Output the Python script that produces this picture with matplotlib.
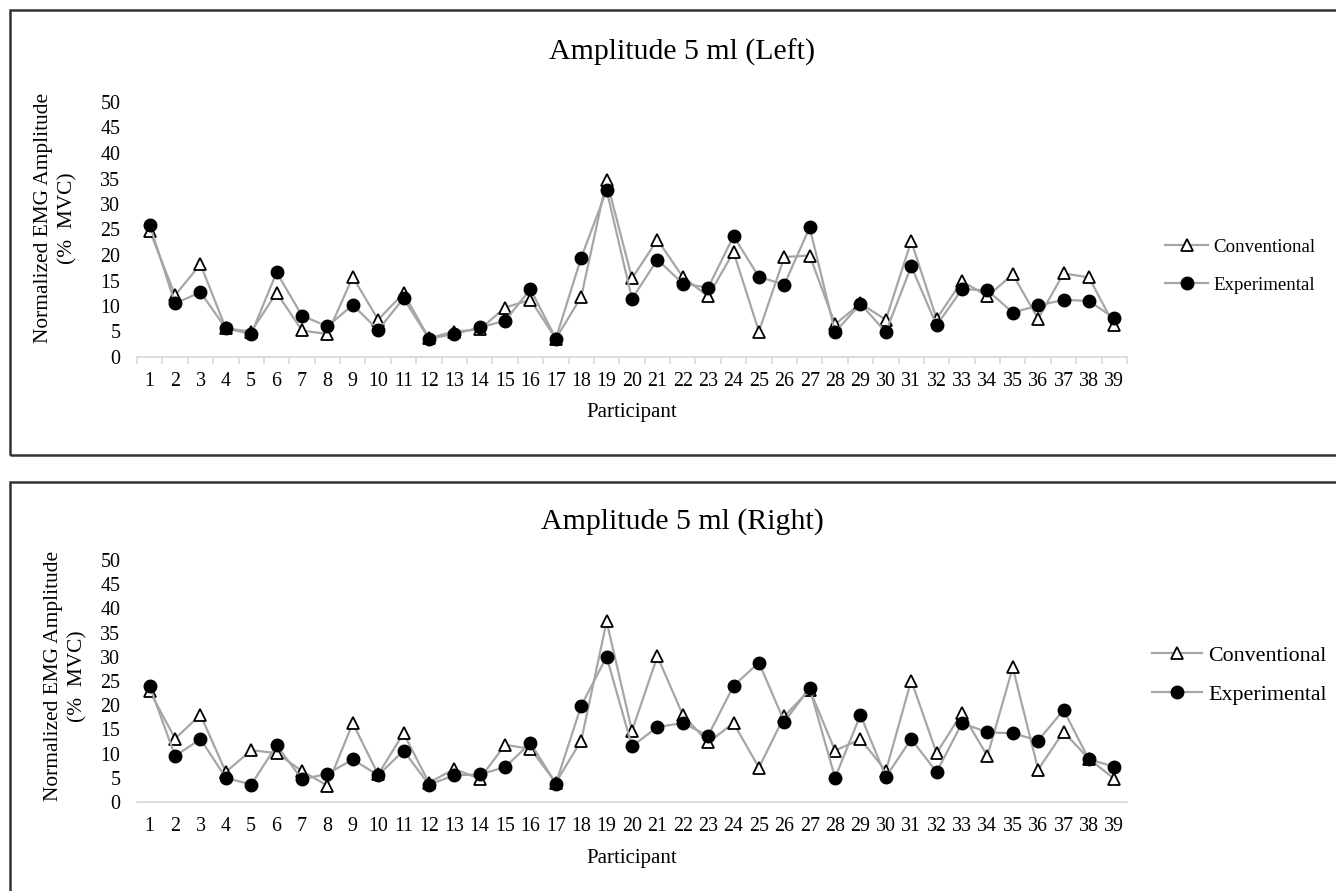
import numpy as np
import matplotlib
matplotlib.use('Agg')
import matplotlib.pyplot as plt
from matplotlib.patches import Rectangle

plt.rcParams['font.family'] = ['Liberation Serif', 'DejaVu Serif']

participants = list(range(1, 40))

# Amplitude 5 ml (Left)
left_conventional = [24.8, 12.1, 18.2, 5.6, 5.0, 12.6, 5.2, 4.5, 15.7, 7.3,
                     12.5, 3.7, 5.0, 5.4, 9.7, 11.2, 3.6, 11.8, 34.7, 15.4,
                     23.0, 15.7, 11.9, 20.6, 5.0, 19.6, 19.9, 6.4, 10.5, 7.3,
                     22.7, 7.5, 14.9, 11.9, 16.2, 7.5, 16.4, 15.6, 6.2]
left_experimental = [25.9, 10.5, 12.7, 5.6, 4.5, 16.6, 8.1, 6.0, 10.2, 5.3,
                     11.5, 3.6, 4.5, 5.8, 7.1, 13.3, 3.6, 19.5, 32.7, 11.4,
                     19.1, 14.4, 13.6, 23.7, 15.7, 14.2, 25.4, 4.9, 10.4, 4.9,
                     17.8, 6.2, 13.3, 13.1, 8.7, 10.1, 11.2, 11.0, 7.6]

# Amplitude 5 ml (Right)
right_conventional = [22.9, 13.1, 18.0, 6.2, 10.7, 10.1, 6.4, 3.4, 16.3, 5.7,
                      14.2, 4.0, 6.8, 4.8, 11.8, 11.0, 4.0, 12.7, 37.3, 14.7,
                      30.1, 18.0, 12.3, 16.3, 7.1, 17.7, 23.2, 10.6, 13.0, 6.4,
                      25.1, 10.1, 18.4, 9.5, 27.8, 6.7, 14.5, 8.9, 4.8]
right_experimental = [24.0, 9.5, 13.0, 5.0, 3.6, 11.7, 4.7, 5.8, 8.8, 5.5,
                      10.6, 3.6, 5.5, 5.7, 7.2, 12.2, 3.8, 19.9, 30.0, 11.5,
                      15.5, 16.3, 13.7, 24.0, 28.8, 16.6, 23.5, 5.0, 18.0, 5.2,
                      13.0, 6.2, 16.3, 14.4, 14.2, 12.7, 19.0, 8.8, 7.3]

yticks = list(range(0, 55, 5))

W, H = 1336, 891
fig = plt.figure(figsize=(W / 100, H / 100), dpi=100)


def fx(px):
    return px / W


def fy(py):
    return 1 - py / H


def panel(top, bottom, conv, exp, title, title_y, ylab_x, ylab_y, xlab_y,
          leg_x, leg_y, leg_fs, leg_sp, minor_ticks):
    ax = fig.add_axes([fx(137), fy(bottom), fx(1127) - fx(137), fy(top) - fy(bottom)])
    ax.plot(participants, conv, color='#a6a6a6', lw=1.6, marker='^', ms=8.5,
            mfc='white', mec='black', mew=1.3, label='Conventional', zorder=3)
    ax.plot(participants, exp, color='#a6a6a6', lw=1.6, marker='o', ms=9,
            mfc='black', mec='black', label='Experimental', zorder=3)
    ax.set_xlim(0.5, 39.5)
    ax.set_ylim(0, 50)
    ax.set_yticks(yticks)
    ax.set_xticks(participants)
    for s in ['top', 'right', 'left']:
        ax.spines[s].set_visible(False)
    ax.spines['bottom'].set_color('#d9d9d9')
    ax.spines['bottom'].set_linewidth(1.3)
    ax.tick_params(axis='y', length=0, pad=12, labelsize=14.4)
    ax.tick_params(axis='x', which='major', length=0, pad=11, labelsize=14.4)
    if minor_ticks:
        ax.set_xticks(np.arange(0.5, 40, 1), minor=True)
        ax.tick_params(axis='x', which='minor', length=5, width=1.2,
                       color='#d9d9d9', direction='out')
    fig.text(fx(682), fy(title_y), title, ha='center', va='center', fontsize=21.5)
    fig.text(fx(632), fy(xlab_y), 'Participant', ha='center', va='center', fontsize=15)
    fig.text(fx(ylab_x), fy(ylab_y), 'Normalized EMG Amplitude\n(%  MVC)',
             ha='center', va='center', rotation=90, fontsize=15.4,
             multialignment='center', linespacing=1.4)
    ax.legend(loc='center left', bbox_to_anchor=(fx(leg_x), fy(leg_y)),
              bbox_transform=fig.transFigure, frameon=False, fontsize=leg_fs,
              handlelength=2.3, handletextpad=0.25, labelspacing=leg_sp,
              borderaxespad=0, borderpad=0)
    return ax


panel(102, 357, left_conventional, left_experimental,
      'Amplitude 5 ml (Left)', 52, 56, 218, 412, 1165, 266, 13.6, 1.1, True)
panel(560, 802, right_conventional, right_experimental,
      'Amplitude 5 ml (Right)', 522, 66, 676, 858, 1152, 675, 15.8, 0.85, False)

# outer boxes round each panel
for y0, y1 in [(10, 455), (482, 896)]:
    fig.add_artist(Rectangle((fx(10), fy(y1)), 1.1, fy(y0) - fy(y1),
                             transform=fig.transFigure, fill=False,
                             ec='#333333', lw=1.8))

fig.savefig('out.png', dpi=100)
